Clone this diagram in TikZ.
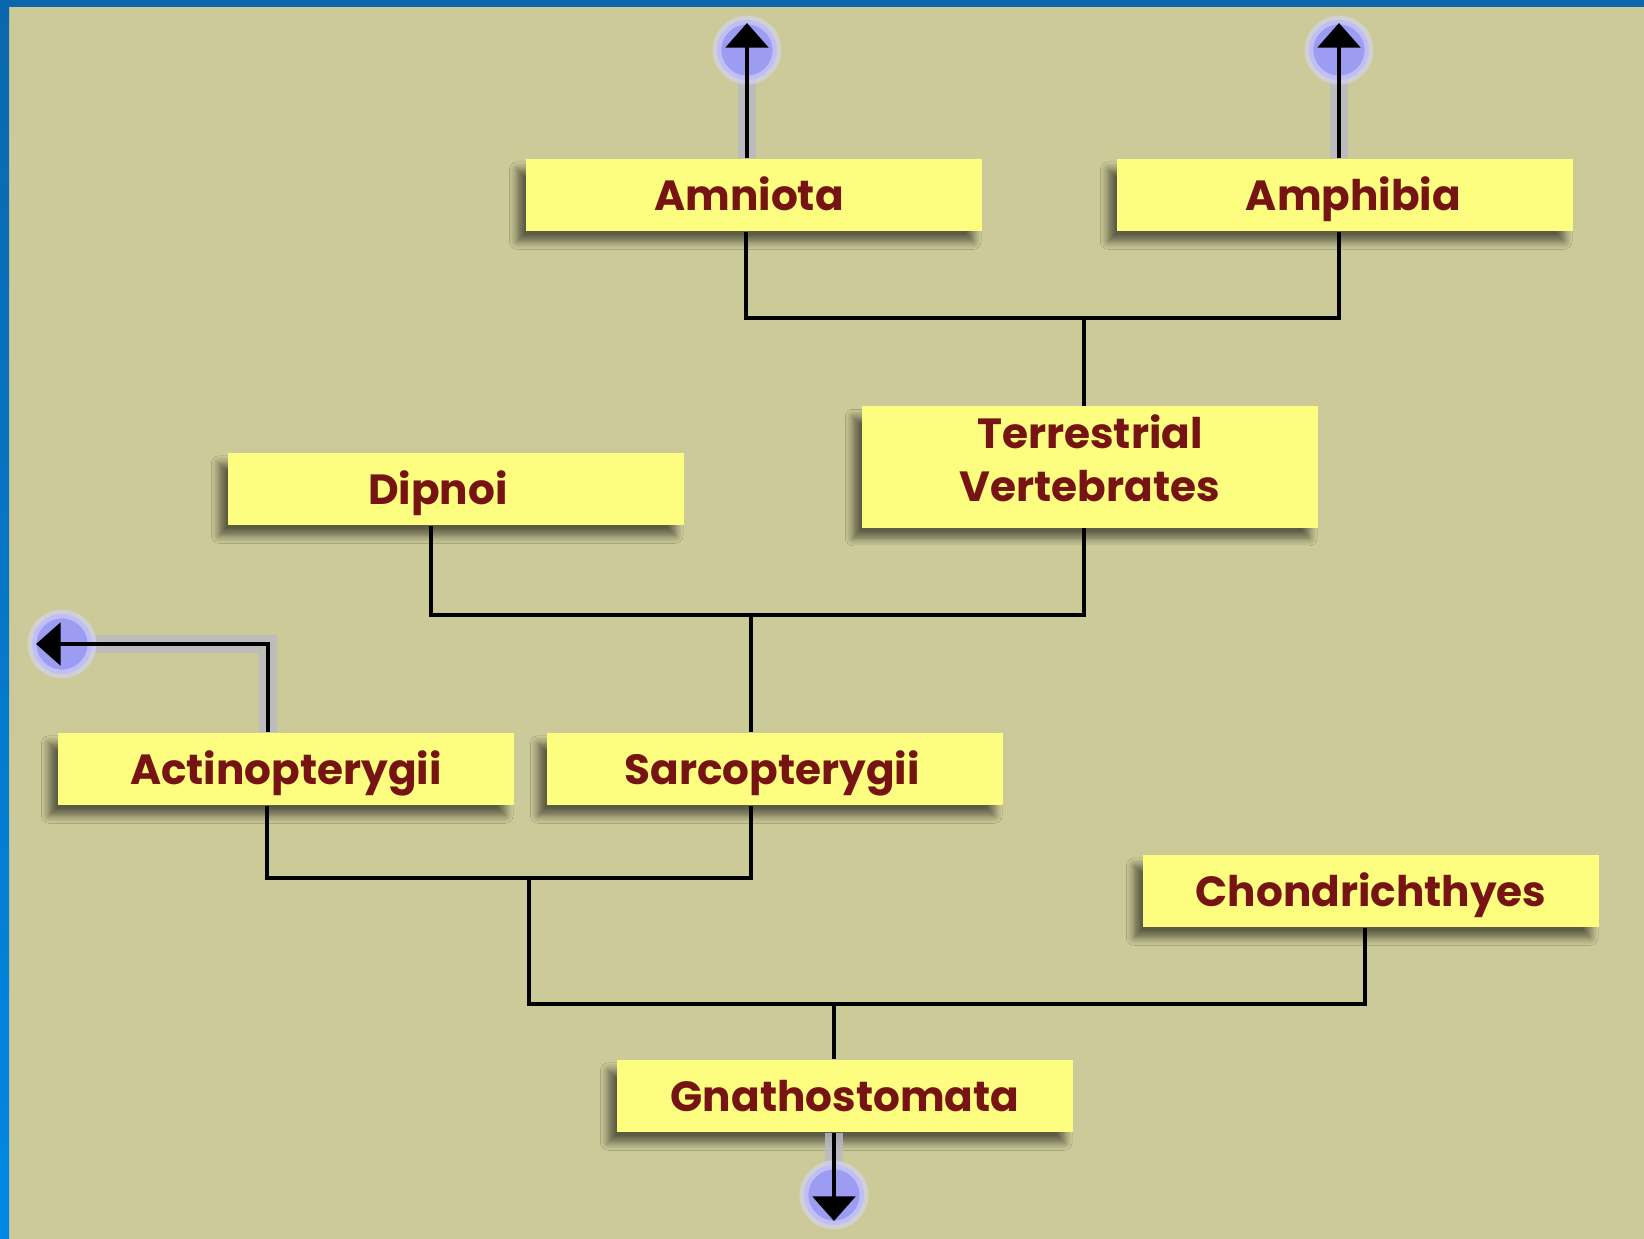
\documentclass[tikz,border=0pt]{standalone}
\usepackage{fontspec}
\setmainfont{Poppins}
\usepackage{xcolor}
\definecolor{frame}{HTML}{0A67AC}
\definecolor{framelight}{HTML}{0088E6}
\definecolor{paper}{HTML}{CCCA98}
\definecolor{boxfill}{HTML}{FDFD80}
\definecolor{ink}{HTML}{761414}
\definecolor{dotcol}{HTML}{9C9CF2}
\definecolor{hazecol}{HTML}{BAB9C6}
\usepackage{tikz}
\usetikzlibrary{arrows.meta,calc,shadows.blur}

\begin{document}
\begin{tikzpicture}[x=0.01cm,y=-0.01cm,
  taxon/.style={rectangle,fill=boxfill,text=ink,minimum width=4.56cm,minimum height=0.72cm,
    inner sep=0pt,align=center,font=\fontsize{12}{15}\selectfont\bfseries,
    text height=8.6pt,text depth=0pt,
    blur shadow={shadow xshift=-2.5pt,shadow yshift=-3pt,shadow blur steps=8,shadow opacity=55}},
  link/.style={black,line width=1.4pt},
  outlink/.style={black,line width=1.4pt,-{Triangle[width=12pt,length=7pt]}},
  hazeline/.style={hazecol,line width=5pt,opacity=0.8},
  tipdot/.style={circle,fill=dotcol,minimum size=0.6cm,inner sep=0pt,
    draw=dotcol!40!white,draw opacity=0.6,line width=2.5pt}]
  % frame and paper
  \fill[paper] (0,0) rectangle (1644,1239);
  \shade[top color=frame,bottom color=framelight] (0,0) rectangle (9,1239);
  \fill[frame] (0,0) rectangle (1644,7);
  % taxa
  \node[taxon] (amniota) at (754,195) {Amniota\hspace*{0.1cm}};
  \node[taxon] (amphibia) at (1345,195) {\hspace*{0.17cm}Amphibia};
  \node[taxon,minimum height=1.21cm,text height=24pt,text depth=4.5pt] (terr) at (1090,467) {Terrestrial\\Vertebrates};
  \node[taxon] (dipnoi) at (456,489) {Dipnoi\hspace*{0.36cm}};
  \node[taxon] (actino) at (286,769) {Actinopterygii};
  \node[taxon] (sarco) at (775,769) {Sarcopterygii\hspace*{0.06cm}};
  \node[taxon] (chondro) at (1371,891) {Chondrichthyes};
  \node[taxon] (gnatho) at (845,1096) {Gnathostomata};
  % open ends
  \coordinate (tipA) at (747,23); \coordinate (tipB) at (1339,23);
  \coordinate (tipC) at (36,644); \coordinate (tipD) at (834,1221);
  \draw[hazeline] (amniota.north -| tipA) -- (747,50);
  \draw[hazeline] (amphibia.north -| tipB) -- (1339,50);
  \draw[hazeline] ($(actino.north)+(-18,0)$) |- (62,644);
  \draw[hazeline] (gnatho.south -| tipD) -- (834,1195);
  \node[tipdot] (dotA) at (747,50) {};
  \node[tipdot] (dotB) at (1339,50) {};
  \node[tipdot] (dotC) at (62,644) {};
  \node[tipdot] (dotD) at (834,1195) {};
  \draw[outlink] (amniota.north -| tipA) -- (tipA);
  \draw[outlink] (amphibia.north -| tipB) -- (tipB);
  \draw[outlink] ($(actino.north)+(-18,0)$) |- (tipC);
  \draw[outlink] (gnatho.south -| tipD) -- (tipD);
  % forks
  \coordinate (j1) at (1084,318); \coordinate (j2) at (751,615);
  \coordinate (j3) at (529,878); \coordinate (j4) at (834,1004);
  \draw[link] ($(amniota.south)+(-8,0)$) |- (j1) -| ($(amphibia.south)+(-6,0)$);
  \draw[link] (j1) -- (j1 |- terr.north);
  \draw[link] ($(dipnoi.south)+(-25,0)$) |- (j2) -| ($(terr.south)+(-6,0)$);
  \draw[link] (j2) -- (j2 |- sarco.north);
  \draw[link] ($(actino.south)+(-19,0)$) |- (j3) -| ($(sarco.south)+(-24,0)$);
  \draw[link] (j3) -- (j3 |- j4) -| ($(chondro.south)+(-6,0)$);
  \draw[link] (j4) -- (j4 |- gnatho.north);
\end{tikzpicture}
\end{document}
